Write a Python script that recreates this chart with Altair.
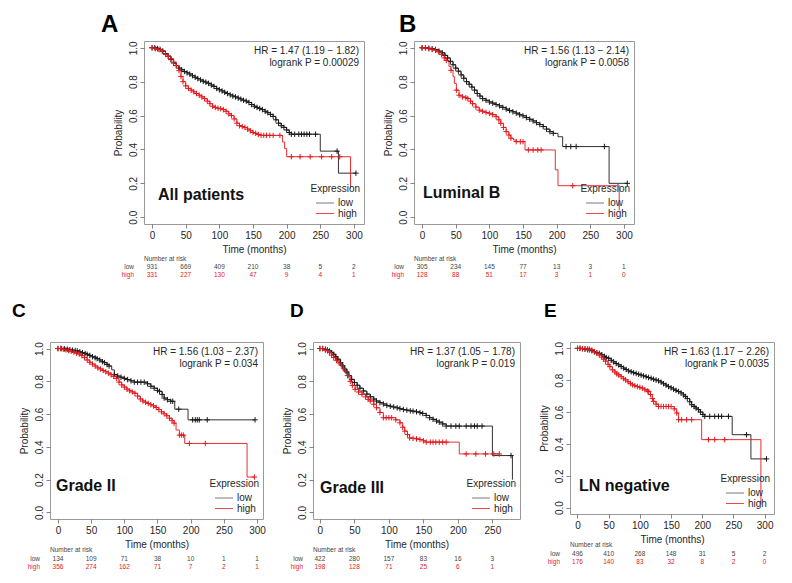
import altair as alt
import pandas as pd

FONT = "Liberation Sans"
LOW_COLOR = "#1a1a1a"
HIGH_COLOR = "#e3191e"
BOX_COLOR = "#9a9a9a"
TEXT_COLOR = "#262626"
PLUS = "M-1,0L1,0M0,-1L0,1"

TICKS_300 = [0, 50, 100, 150, 200, 250, 300]
TICKS_250 = [0, 50, 100, 150, 200, 250]

# Kaplan-Meier steps: (time in months, survival probability, censor mark shown)
A_LOW = [(0,1.0,1),(4,1.0,1),(8,0.995,1),(12,0.99,1),(16,0.98,1),(20,0.965,1),(24,0.95,1),(28,0.93,1),(32,0.91,1),(36,0.895,1),(40,0.88,1),(44,0.87,1),(48,0.86,1),(52,0.852,1),(56,0.845,1),(60,0.835,1),(64,0.826,1),(68,0.818,1),(72,0.81,1),(76,0.802,1),(80,0.797,1),(84,0.79,1),(88,0.78,1),(92,0.772,1),(96,0.76,1),(100,0.752,1),(104,0.745,1),(108,0.737,1),(112,0.73,1),(116,0.722,1),(120,0.715,1),(124,0.71,1),(128,0.703,1),(132,0.697,1),(136,0.69,1),(140,0.685,1),(144,0.677,1),(148,0.665,1),(152,0.655,1),(156,0.648,1),(160,0.642,1),(164,0.635,1),(168,0.625,1),(172,0.617,1),(176,0.607,1),(180,0.595,1),(184,0.575,1),(188,0.555,1),(192,0.54,1),(196,0.53,1),(200,0.515,1),(204,0.5,1),(207,0.49,1),(212,0.49,1),(218,0.49,1),(222,0.49,1),(226,0.49,1),(230,0.49,1),(234,0.49,1),(243,0.49,1),(250,0.39,0),(275,0.39,1),(277,0.26,0),(303,0.26,1)]
A_HIGH = [(0,1.0,1),(5,0.995,1),(10,0.99,1),(15,0.98,1),(20,0.96,1),(24,0.95,1),(28,0.935,1),(32,0.915,1),(36,0.895,1),(40,0.865,1),(43,0.83,1),(46,0.8,1),(50,0.775,1),(54,0.76,1),(58,0.75,1),(62,0.74,1),(66,0.73,1),(70,0.72,1),(74,0.71,1),(78,0.7,1),(82,0.685,1),(86,0.67,1),(90,0.655,1),(94,0.648,1),(98,0.643,1),(102,0.64,1),(106,0.635,1),(110,0.625,1),(114,0.61,1),(118,0.6,1),(122,0.58,1),(126,0.555,1),(130,0.54,1),(134,0.535,1),(138,0.53,1),(142,0.52,1),(146,0.51,1),(150,0.5,1),(154,0.495,1),(158,0.488,1),(162,0.483,1),(166,0.483,1),(170,0.483,1),(175,0.483,1),(180,0.483,1),(190,0.483,1),(194,0.444,0),(197,0.405,0),(200,0.357,0),(207,0.357,1),(220,0.357,1),(235,0.357,1),(252,0.357,1),(267,0.357,1),(279,0.357,1),(295,0.17,0)]

B_LOW = [(0,1.0,1),(5,1.0,1),(10,0.997,1),(15,0.994,1),(20,0.99,1),(25,0.98,1),(30,0.97,1),(34,0.955,1),(38,0.94,1),(42,0.92,1),(46,0.9,1),(50,0.88,1),(54,0.862,1),(58,0.84,1),(62,0.82,1),(66,0.8,1),(70,0.785,1),(74,0.768,1),(78,0.75,1),(82,0.73,1),(86,0.715,1),(90,0.7,1),(95,0.69,1),(100,0.68,1),(105,0.673,1),(110,0.665,1),(115,0.657,1),(120,0.648,1),(125,0.638,1),(130,0.63,1),(135,0.622,1),(140,0.614,1),(145,0.605,1),(150,0.598,1),(155,0.588,1),(160,0.578,1),(165,0.568,1),(170,0.558,1),(175,0.547,1),(180,0.535,1),(185,0.52,1),(190,0.505,1),(195,0.495,1),(202,0.475,0),(209,0.417,0),(214,0.417,1),(221,0.417,1),(229,0.417,1),(271,0.417,1),(278,0.2,0),(305,0.2,1)]
B_HIGH = [(0,1.0,1),(5,1.0,1),(10,0.995,1),(15,0.99,1),(20,0.985,1),(25,0.975,1),(29,0.96,1),(33,0.94,1),(36,0.925,1),(40,0.89,0),(43,0.867,1),(46,0.83,0),(48,0.79,0),(51,0.75,1),(55,0.72,1),(60,0.71,1),(65,0.705,1),(68,0.7,1),(72,0.685,1),(75,0.67,1),(80,0.65,1),(85,0.632,1),(90,0.625,1),(95,0.618,1),(100,0.613,1),(105,0.605,1),(110,0.593,1),(114,0.575,1),(117,0.554,1),(121,0.53,1),(125,0.505,1),(129,0.485,1),(132,0.466,1),(136,0.455,0),(140,0.446,1),(146,0.446,1),(150,0.446,1),(153,0.397,0),(158,0.397,1),(165,0.397,1),(172,0.397,1),(177,0.397,1),(198,0.28,0),(202,0.186,0),(224,0.186,1),(293,0.04,0)]

C_LOW = [(0,1.0,1),(5,1.0,1),(10,0.998,1),(14,0.996,1),(18,0.993,1),(22,0.99,1),(26,0.988,1),(29,0.986,1),(33,0.98,1),(37,0.975,1),(41,0.97,1),(44,0.965,1),(48,0.958,1),(52,0.95,1),(56,0.944,1),(59,0.938,1),(63,0.93,1),(67,0.92,1),(70,0.914,1),(74,0.903,1),(77,0.893,1),(81,0.87,0),(85,0.842,1),(90,0.832,1),(95,0.825,1),(100,0.818,1),(105,0.811,1),(110,0.803,1),(115,0.795,1),(120,0.795,1),(125,0.795,1),(130,0.795,1),(135,0.785,1),(140,0.77,1),(145,0.758,1),(150,0.745,1),(153,0.739,1),(157,0.72,1),(160,0.698,1),(165,0.688,1),(170,0.678,1),(173,0.678,1),(176,0.63,0),(182,0.63,1),(196,0.565,0),(203,0.565,1),(207,0.565,1),(210,0.565,1),(213,0.565,1),(225,0.565,1),(297,0.565,1)]
C_HIGH = [(0,1.0,1),(4,1.0,1),(8,0.996,1),(12,0.992,1),(16,0.988,1),(20,0.984,1),(24,0.978,1),(28,0.972,1),(32,0.966,1),(36,0.957,1),(40,0.945,1),(44,0.93,1),(48,0.916,1),(52,0.905,1),(56,0.893,1),(60,0.882,1),(64,0.875,1),(68,0.866,1),(72,0.858,1),(76,0.85,1),(80,0.84,1),(84,0.83,1),(88,0.818,1),(92,0.795,1),(96,0.778,1),(100,0.765,1),(104,0.752,1),(108,0.742,1),(112,0.735,1),(116,0.727,1),(120,0.71,1),(124,0.692,1),(128,0.68,1),(132,0.672,1),(136,0.665,1),(140,0.657,1),(144,0.65,1),(148,0.64,1),(152,0.628,1),(156,0.614,1),(160,0.602,1),(164,0.59,1),(168,0.575,1),(172,0.56,1),(175,0.545,1),(178,0.503,0),(183,0.472,1),(186,0.472,1),(189,0.472,1),(191,0.421,0),(198,0.421,1),(222,0.421,1),(285,0.216,0),(296,0.216,1)]

D_LOW = [(0,1.0,1),(4,1.0,1),(8,0.996,1),(11,0.992,1),(14,0.985,1),(17,0.975,1),(20,0.965,1),(23,0.95,1),(26,0.935,1),(30,0.914,1),(33,0.895,1),(36,0.875,1),(39,0.857,1),(42,0.835,1),(46,0.812,1),(50,0.793,1),(54,0.776,1),(58,0.758,1),(63,0.741,1),(68,0.722,1),(73,0.706,1),(78,0.692,1),(82,0.68,1),(87,0.67,1),(92,0.662,1),(97,0.653,1),(102,0.648,1),(107,0.643,1),(112,0.638,1),(116,0.633,1),(121,0.628,1),(126,0.624,1),(131,0.62,1),(135,0.618,1),(140,0.614,1),(145,0.609,1),(149,0.604,1),(154,0.592,1),(159,0.578,1),(164,0.568,1),(169,0.558,1),(173,0.551,1),(178,0.54,1),(183,0.527,1),(190,0.527,1),(197,0.527,1),(202,0.527,1),(212,0.527,1),(219,0.527,1),(224,0.527,1),(228,0.527,1),(235,0.527,1),(250,0.347,0),(277,0.347,1),(279,0.2,0)]
D_HIGH = [(0,1.0,1),(4,1.0,1),(8,0.99,1),(11,0.986,1),(14,0.975,1),(17,0.96,1),(20,0.945,1),(24,0.928,1),(28,0.912,1),(31,0.9,1),(34,0.88,1),(37,0.863,1),(40,0.835,1),(44,0.8,1),(47,0.775,1),(51,0.751,1),(56,0.735,1),(61,0.72,1),(66,0.705,1),(70,0.69,1),(73,0.68,1),(78,0.66,1),(82,0.639,1),(87,0.61,1),(92,0.578,1),(96,0.578,1),(100,0.578,1),(104,0.578,1),(110,0.565,1),(116,0.547,1),(120,0.52,1),(123,0.496,1),(127,0.475,1),(130,0.455,1),(135,0.452,1),(140,0.449,1),(145,0.445,1),(150,0.437,1),(154,0.429,1),(160,0.429,1),(164,0.429,1),(168,0.429,1),(173,0.429,1),(178,0.429,1),(183,0.429,1),(202,0.357,0),(212,0.357,1),(226,0.357,1),(240,0.357,1),(252,0.357,1),(260,0.357,1)]

E_LOW = [(0,1.0,1),(4,1.0,1),(8,0.998,1),(12,0.995,1),(16,0.992,1),(19,0.99,1),(23,0.985,1),(27,0.978,1),(31,0.972,1),(35,0.969,1),(39,0.96,1),(43,0.95,1),(46,0.943,1),(50,0.9375,1),(54,0.925,1),(58,0.915,1),(62,0.905,1),(66,0.896,1),(70,0.886,1),(74,0.876,1),(78,0.867,1),(82,0.858,1),(86,0.853,1),(90,0.847,1),(94,0.842,1),(98,0.8375,1),(102,0.832,1),(106,0.827,1),(110,0.822,1),(114,0.817,1),(118,0.812,1),(122,0.806,1),(126,0.801,1),(130,0.796,1),(134,0.788,1),(138,0.778,1),(142,0.769,1),(146,0.76,1),(150,0.752,1),(154,0.744,1),(158,0.736,1),(162,0.729,1),(166,0.72,1),(170,0.708,1),(173,0.698,1),(176,0.685,1),(180,0.665,1),(183,0.646,1),(187,0.635,1),(190,0.625,1),(194,0.615,1),(197,0.6,1),(201,0.585,1),(204,0.573,1),(212,0.573,1),(220,0.573,1),(226,0.573,1),(231,0.573,1),(242,0.573,1),(248,0.458,0),(271,0.458,1),(278,0.306,0),(303,0.306,1)]
E_HIGH = [(0,1.0,1),(4,1.0,1),(8,0.998,1),(12,0.997,1),(16,0.996,1),(19,0.996,1),(23,0.99,1),(27,0.98,1),(31,0.97,1),(35,0.958,1),(39,0.945,1),(42,0.932,1),(45,0.92,1),(49,0.9,1),(52,0.885,1),(56,0.865,1),(60,0.852,1),(63,0.84,1),(66,0.833,1),(70,0.822,1),(74,0.81,1),(77,0.802,1),(81,0.79,1),(85,0.78,1),(88,0.771,1),(92,0.765,1),(96,0.76,1),(100,0.755,1),(104,0.75,1),(108,0.74,1),(112,0.733,1),(114,0.729,1),(117,0.71,1),(120,0.685,1),(122,0.667,1),(126,0.65,1),(130,0.635,1),(134,0.635,1),(138,0.635,1),(142,0.635,1),(146,0.635,1),(150,0.635,1),(155,0.62,1),(159,0.594,1),(162,0.552,1),(167,0.552,1),(175,0.552,1),(183,0.552,1),(199,0.427,0),(210,0.427,1),(220,0.427,1),(236,0.427,1),(294,0.02,0)]

# Number at risk
A_RISK_LOW = [931, 669, 409, 210, 38, 5, 2]
A_RISK_HIGH = [331, 227, 130, 47, 9, 4, 1]
B_RISK_LOW = [305, 234, 145, 77, 13, 3, 1]
B_RISK_HIGH = [128, 88, 51, 17, 3, 1, 0]
C_RISK_LOW = [134, 109, 71, 38, 10, 1, 1]
C_RISK_HIGH = [356, 274, 162, 71, 7, 2, 1]
D_RISK_LOW = [422, 280, 157, 83, 16, 3]
D_RISK_HIGH = [198, 128, 71, 25, 6, 1]
E_RISK_LOW = [496, 410, 268, 148, 31, 5, 2]
E_RISK_HIGH = [176, 140, 83, 32, 8, 2, 0]

ONE = pd.DataFrame({"k": [0]})


def txt(text, x, y, size=10, align="left", baseline="middle", weight="normal", color=TEXT_COLOR):
    return alt.Chart(ONE).mark_text(
        text=text, font=FONT, fontSize=size, fontWeight=weight, align=align,
        baseline=baseline, color=color,
    ).encode(x=alt.value(x), y=alt.value(y))


def panel(letter, letter_x, letter_y, letter_size, label, label_x, label_y,
          hr, pv, low, high, risk_low, risk_high, ticks, xdom, w, h, risk_dy):
    rows = []
    for g, data in (("low", low), ("high", high)):
        for i, (t, s, c) in enumerate(data):
            rows.append({"g": g, "i": i, "t": t, "s": s, "c": c})
    km = pd.DataFrame(rows)

    xs = alt.Scale(domain=xdom, nice=False, zero=False)
    ys = alt.Scale(domain=[-0.04, 1.04], nice=False, zero=False)
    cs = alt.Scale(domain=["low", "high"], range=[LOW_COLOR, HIGH_COLOR])
    xax = alt.Axis(values=ticks, title="Time (months)", grid=False, domain=False,
                   labelAngle=0, labelPadding=2, titlePadding=4, tickSize=4,
                   labelFlush=False, labelOverlap=False)
    yax = alt.Axis(values=[0, 0.2, 0.4, 0.6, 0.8, 1.0], format=".1f", title="Probability",
                   grid=False, domain=False, labelAngle=270, labelAlign="center",
                   labelBaseline="bottom", labelPadding=2, titlePadding=5, tickSize=4,
                   labelFlush=False, labelOverlap=False)
    X = alt.X("t:Q", scale=xs, axis=xax)
    Y = alt.Y("s:Q", scale=ys, axis=yax)
    C = alt.Color("g:N", scale=cs, legend=None)

    base = alt.Chart(km)
    lines = base.mark_line(interpolate="step-after", strokeWidth=0.9).encode(
        x=X, y=Y, color=C, detail="g:N", order="i:Q")
    cens = base.transform_filter("datum.c == 1").mark_point(
        shape=PLUS, filled=False, size=30, strokeWidth=1.0, opacity=1).encode(
        x=X, y=Y, color=C)

    n = len(risk_low)
    risk = pd.DataFrame({"t": ticks[:n], "lo": [str(v) for v in risk_low],
                         "hi": [str(v) for v in risk_high]})
    rl = alt.Chart(risk).mark_text(font=FONT, fontSize=6.5, color="#444").encode(
        x=X, y=alt.value(h + risk_dy[1]), text="lo:N")
    rh = alt.Chart(risk).mark_text(font=FONT, fontSize=6.5, color=HIGH_COLOR).encode(
        x=X, y=alt.value(h + risk_dy[2]), text="hi:N")

    layers = [
        lines, cens, rl, rh,
        txt("Number at risk", 0, h + risk_dy[0], size=6.5, color="#444"),
        txt("low", -10, h + risk_dy[1], size=6.5, align="right", color="#444"),
        txt("high", -10, h + risk_dy[2], size=6.5, align="right", color=HIGH_COLOR),
        txt(hr, w - 5, 10, align="right"),
        txt(pv, w - 5, 21.5, align="right"),
        txt(label, label_x, label_y, size=16, weight="bold", baseline="alphabetic", color="#111"),
        txt("Expression", w - 4, h - 35.5, align="right"),
        alt.Chart(ONE).mark_rule(color="#555", strokeWidth=0.8).encode(
            x=alt.value(w - 48), x2=alt.value(w - 30), y=alt.value(h - 21)),
        alt.Chart(ONE).mark_rule(color=HIGH_COLOR, strokeWidth=0.8).encode(
            x=alt.value(w - 48), x2=alt.value(w - 30), y=alt.value(h - 10.5)),
        txt("low", w - 26, h - 21),
        txt("high", w - 26, h - 10.5),
        txt(letter, letter_x, letter_y, size=letter_size, weight="bold",
            baseline="alphabetic", color="#000"),
    ]
    return alt.layer(*layers).properties(width=w, height=h)


TOP_RISK = (35, 43, 51)
BOT_RISK = (31, 40, 48)

pA = panel("A", -43, -9, 24, "All patients", 14, 159,
           "HR = 1.47 (1.19 \u2212 1.82)", "logrank P = 0.00029",
           A_LOW, A_HIGH, A_RISK_LOW, A_RISK_HIGH, TICKS_300, [-12, 315], 220, 183, TOP_RISK)
pB = panel("B", -15, -9, 24, "Luminal B", 9, 157,
           "HR = 1.56 (1.13 \u2212 2.14)", "logrank P = 0.0058",
           B_LOW, B_HIGH, B_RISK_LOW, B_RISK_HIGH, TICKS_300, [-12, 315], 220, 183, TOP_RISK)
pC = panel("C", -38, -25, 19, "Grade II", 6, 149,
           "HR = 1.56 (1.03 \u2212 2.37)", "logrank P = 0.034",
           C_LOW, C_HIGH, C_RISK_LOW, C_RISK_HIGH, TICKS_300, [-12, 309], 213, 177, BOT_RISK)
pD = panel("D", -23, -25, 19, "Grade III", 7, 151,
           "HR = 1.37 (1.05 \u2212 1.78)", "logrank P = 0.019",
           D_LOW, D_HIGH, D_RISK_LOW, D_RISK_HIGH, TICKS_250, [-10, 290], 207, 177, BOT_RISK)
pE = panel("E", -26, -25, 19, "LN negative", 9, 149,
           "HR = 1.63 (1.17 \u2212 2.26)", "logrank P = 0.0035",
           E_LOW, E_HIGH, E_RISK_LOW, E_RISK_HIGH, TICKS_300, [-12, 315], 204, 172, BOT_RISK)

spacer = alt.Chart(ONE).mark_point(opacity=0, size=1).encode(
    x=alt.value(0), y=alt.value(0)
).properties(width=44, height=183, view=alt.ViewBackground(stroke="transparent"))

top = alt.hconcat(spacer, pA, pB, spacing=50, bounds="flush")
bottom = alt.hconcat(pC, pD, pE, spacing=50, bounds="flush")

chart = alt.vconcat(top, bottom, spacing=22).properties(
    padding={"left": 3, "top": 4, "right": 2, "bottom": 2},
    background="white",
).configure_view(
    stroke=BOX_COLOR, strokeWidth=1
).configure_axis(
    labelFont=FONT, titleFont=FONT, labelFontSize=10, titleFontSize=10,
    titleFontWeight="normal", labelColor=TEXT_COLOR, titleColor=TEXT_COLOR,
    tickColor="#666", tickWidth=0.8,
)

chart.save("out.html", embed_options={"renderer": "svg", "actions": False})
